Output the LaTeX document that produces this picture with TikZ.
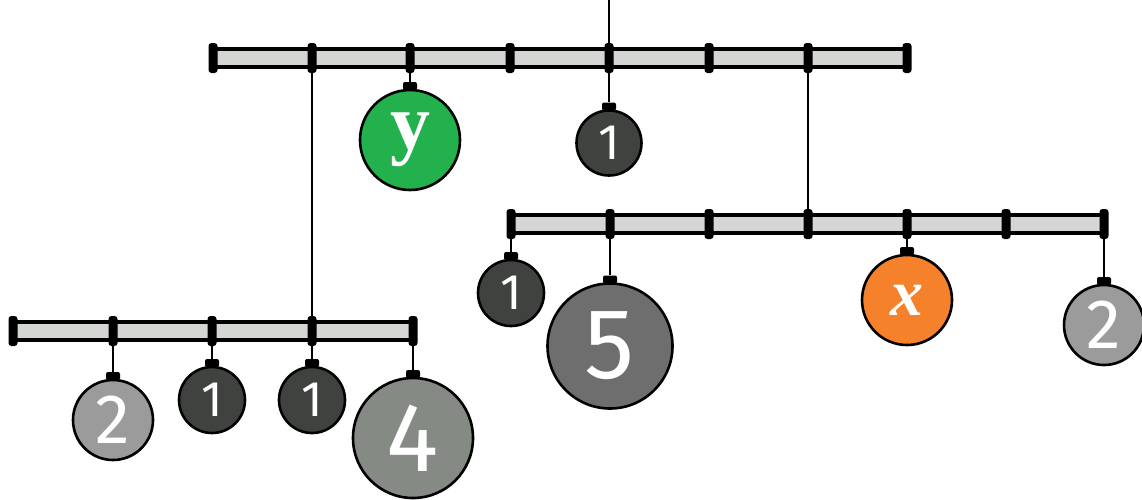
\documentclass[tikz,border=0pt]{standalone}
\usepackage{fontspec}
\setmainfont{Liberation Serif}
\newfontfamily\digitfont{Fira Sans}

\definecolor{barfill}{HTML}{D4D6D4}
\definecolor{ygreen}{HTML}{22B14C}
\definecolor{xorange}{HTML}{F5822A}
\definecolor{darkball}{HTML}{3F423F}
\definecolor{midball}{HTML}{6E6E6E}
\definecolor{lightball}{HTML}{9B9B9B}
\definecolor{sageball}{HTML}{858A85}

\tikzset{
    beam/.style={draw, line width=3.5pt, fill=barfill, minimum height=18pt, inner sep=0pt},
    notch/.style={fill=black, rounded corners=3pt, minimum width=9pt, minimum height=30pt, inner sep=0pt},
    weight/.style n args={3}{draw, circle, line width=2.6pt, inner sep=0pt, text=white, minimum size=#1, fill=#2, font=\digitfont\fontsize{#3}{#3}\selectfont},
    lid/.style={fill=black, rounded corners=2pt, minimum width=14pt, minimum height=8pt, inner sep=0pt, anchor=south},
    cord/.style={line width=2.4pt}
}

\begin{document}
\begin{tikzpicture}[x=1pt, y=-1pt]
    \useasboundingbox (0, 0) rectangle (1142, 499);

    % bars
    \node[beam, minimum width=694pt] (topbar) at (560, 58) {};
    \node[beam, minimum width=593pt] (rightbar) at (807.5, 224) {};
    \node[beam, minimum width=400pt] (leftbar) at (213, 331) {};

    \foreach \i/\x in {1/213, 2/312, 3/410, 4/510, 5/609, 6/709, 7/808, 8/907}
        \node[notch] (top\i) at (\x, 58) {};
    \foreach \i/\x in {1/511, 2/610, 3/709, 4/808, 5/907, 6/1006, 7/1104}
        \node[notch] (right\i) at (\x, 224) {};
    \foreach \i/\x in {1/13, 2/113, 3/212, 4/312, 5/413}
        \node[notch] (left\i) at (\x, 331) {};

    % weights
    \node[weight={100pt}{ygreen}{80}, font=\bfseries\fontsize{80}{80}\selectfont] (wy) at (410, 140) {y};
    \node[weight={65pt}{darkball}{50}] (wtop1) at (609, 143) {1};

    \node[weight={66pt}{darkball}{50}] (wright1) at (511, 293) {1};
    \node[weight={125pt}{midball}{100}] (wright5) at (610, 346) {5};
    \node[weight={90pt}{xorange}{66}, font=\bfseries\itshape\fontsize{66}{66}\selectfont] (wx) at (907, 300) {x};
    \node[weight={80pt}{lightball}{70}] (wright2) at (1104, 325) {2};

    \node[weight={80pt}{lightball}{70}] (wleft2) at (113, 420) {2};
    \node[weight={66pt}{darkball}{50}] (wleft1a) at (212, 400) {1};
    \node[weight={66pt}{darkball}{50}] (wleft1b) at (312, 400) {1};
    \node[weight={120pt}{sageball}{98}] (wleft4) at (413, 438) {4};

    % lids
    \node[lid] (ly) at ([yshift=-1.5pt]wy.north) {};
    \node[lid] (ltop1) at ([yshift=-1.5pt]wtop1.north) {};
    \node[lid] (lright1) at ([yshift=-1.5pt]wright1.north) {};
    \node[lid] (lright5) at ([yshift=-1.5pt]wright5.north) {};
    \node[lid] (lx) at ([yshift=-1.5pt]wx.north) {};
    \node[lid] (lright2) at ([yshift=-1.5pt]wright2.north) {};
    \node[lid] (lleft2) at ([yshift=-1.5pt]wleft2.north) {};
    \node[lid] (lleft1a) at ([yshift=-1.5pt]wleft1a.north) {};
    \node[lid] (lleft1b) at ([yshift=-1.5pt]wleft1b.north) {};
    \node[lid] (lleft4) at ([yshift=-1.5pt]wleft4.north) {};

    % cords
    \coordinate (hook) at (609, 0);
    \draw[cord] (hook) -- (top5);
    \draw[cord] (top2) -- (left4);
    \draw[cord] (top7) -- (right4);

    \draw[cord] (top3) -- (ly);
    \draw[cord] (top5) -- (ltop1);
    \draw[cord] (right1) -- (lright1);
    \draw[cord] (right2) -- (lright5);
    \draw[cord] (right5) -- (lx);
    \draw[cord] (right7) -- (lright2);
    \draw[cord] (left2) -- (lleft2);
    \draw[cord] (left3) -- (lleft1a);
    \draw[cord] (left4) -- (lleft1b);
    \draw[cord] (left5) -- (lleft4);
\end{tikzpicture}
\end{document}
